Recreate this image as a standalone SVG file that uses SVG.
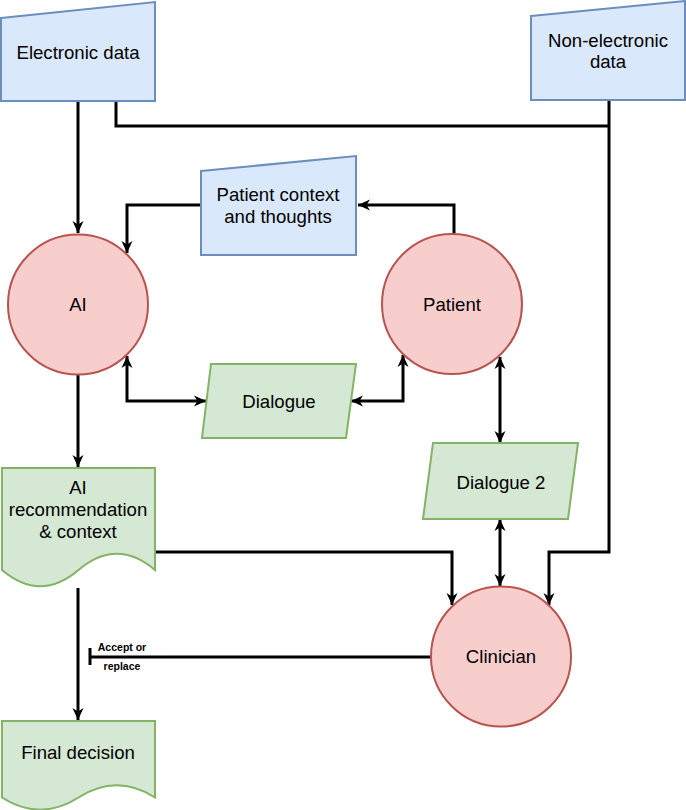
<svg xmlns="http://www.w3.org/2000/svg" width="686" height="810" viewBox="0 0 686 810">
<style>
.blue{fill:#dae8fc;stroke:#6c8ebf;stroke-width:2}
.green{fill:#d5e8d4;stroke:#82b366;stroke-width:2}
.red{fill:#f8cecc;stroke:#b85450;stroke-width:2}
.t{font-family:"Liberation Sans",Arial,Helvetica,sans-serif;font-size:18.6px;fill:#000;text-anchor:middle}
.s{font-family:"Liberation Sans",Arial,Helvetica,sans-serif;font-size:10.5px;font-weight:bold;fill:#000;text-anchor:middle}
.c{fill:none;stroke:#000;stroke-width:3}
</style>
<defs>
<marker id="a" markerUnits="userSpaceOnUse" markerWidth="14" markerHeight="12" refX="12" refY="6" orient="auto-start-reverse">
<path d="M0,0.5 L12,6 L0,11.5 L3.5,6 Z" fill="#000"/>
</marker>
</defs>
<g id="connectors">
<path class="c" d="M78,101 V233" marker-end="url(#a)"/>
<path class="c" d="M116,101 V126 H609"/>
<path class="c" d="M609,100 V552 H549 V605" marker-end="url(#a)"/>
<path class="c" d="M454,234 V205 H358" marker-end="url(#a)"/>
<path class="c" d="M201,205 H127 V253" marker-end="url(#a)"/>
<path class="c" d="M127,356 V401 H206" marker-start="url(#a)" marker-end="url(#a)"/>
<path class="c" d="M351,401 H403 V355" marker-start="url(#a)" marker-end="url(#a)"/>
<path class="c" d="M500,357 V443" marker-start="url(#a)" marker-end="url(#a)"/>
<path class="c" d="M500,519 V586" marker-start="url(#a)" marker-end="url(#a)"/>
<path class="c" d="M78,375 V467" marker-end="url(#a)"/>
<path class="c" d="M156,552 H452 V605" marker-end="url(#a)"/>
<path class="c" d="M78,588 V720" marker-end="url(#a)"/>
<path class="c" d="M431,657 H90"/>
<path class="c" d="M90,648 V665"/>
<text class="s" x="122" y="651">Accept or</text>
<text class="s" x="122" y="670">replace</text>
</g>
<g id="electronic-data">
<polygon class="blue" points="1,18 155,2 155,101 1,101"/>
<text class="t" x="78" y="59">Electronic data</text>
</g>
<g id="non-electronic-data">
<polygon class="blue" points="531,16 685,1 685,100 531,100"/>
<text class="t" x="608" y="47">Non-electronic</text>
<text class="t" x="608" y="68">data</text>
</g>
<g id="patient-context">
<polygon class="blue" points="201,171 356,156 356,255 201,255"/>
<text class="t" x="278" y="201">Patient context</text>
<text class="t" x="278" y="223">and thoughts</text>
</g>
<g id="ai">
<circle class="red" cx="78" cy="304.5" r="70"/>
<text class="t" x="78" y="311">AI</text>
</g>
<g id="patient">
<circle class="red" cx="452" cy="304" r="70"/>
<text class="t" x="452" y="311">Patient</text>
</g>
<g id="dialogue">
<polygon class="green" points="211,364 356,364 346,438 202,438"/>
<text class="t" x="279" y="408">Dialogue</text>
</g>
<g id="dialogue-2">
<polygon class="green" points="433,443 578,443 568,519 423,519"/>
<text class="t" x="501" y="489">Dialogue 2</text>
</g>
<g id="ai-recommendation">
<path class="green" d="M2,468 H155 V570 Q116.75,537.6 78.5,570 Q40.25,602.4 2,570 Z"/>
<text class="t" x="78" y="494">AI</text>
<text class="t" x="78" y="516">recommendation</text>
<text class="t" x="78" y="538">&amp; context</text>
</g>
<g id="clinician">
<circle class="red" cx="501" cy="656.5" r="70"/>
<text class="t" x="501" y="663">Clinician</text>
</g>
<g id="final-decision">
<path class="green" d="M2,721 H155 V797.5 Q116.75,773.2 78.5,797.5 Q40.25,821.8 2,797.5 Z"/>
<text class="t" x="78" y="759">Final decision</text>
</g>
</svg>
